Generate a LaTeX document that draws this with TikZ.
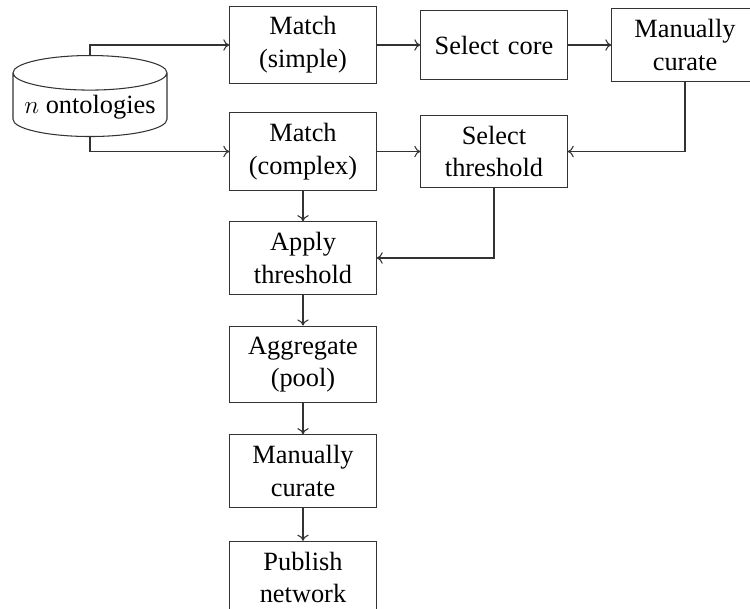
\documentclass[tikz,border=0pt]{standalone}
\usepackage{fontspec}
\setmainfont{Liberation Serif}
\usepackage{tikz}
\usetikzlibrary{positioning}
\usetikzlibrary{shapes.geometric}
\usetikzlibrary{arrows.meta}
\tikzset{
    txt/.style = {align=center, font=\fontsize{15}{18.6}\selectfont},
    box/.style = {txt, rectangle, draw=black!80, text width=2.50cm, minimum width=2.92cm, minimum height=1.38cm, inner sep=6pt, semithick},
    store/.style = {txt, cylinder, shape border rotate=90, draw=black!80, aspect=0.25, minimum width=3.08cm, minimum height=1.62cm, inner sep=2pt, semithick},
    link/.style = {-{To[length=3.5pt,width=6.5pt]}, draw=black!80, semithick}
}

\begin{document}
\begin{tikzpicture}
            [on grid, node distance=2.13cm and 3.82cm]

            \useasboundingbox (0,0) rectangle (15,-12.18);

            \node [store] (onto) at (1.80,-2.15) {$n$ ontologies};

            \node [box] (msimple) at (6.06,-0.90) {Match\\(simple)};
            \node [box, right=of msimple] (score) {Select core};
            \node [box, right=of score] (curate1) {Manually\\curate};

            \node [box, below=of msimple] (mcomplex) {Match\\(complex)};
            \node [box, right=of mcomplex] (sthresh) {Select\\threshold};

            \node [box, below=of mcomplex] (athresh) {Apply\\threshold};
            \node [box, below=of athresh] (aggr) {Aggregate\\(pool)};
            \node [box, below=of aggr] (curate2) {Manually\\curate};
            \node [box, below=of curate2] (publish) {Publish\\network};

            \draw [link] (onto.north) |- (msimple.west);
            \draw [link] (onto.south) |- (mcomplex.west);
            \draw [link] (msimple) -- (score);
            \draw [link] (score) -- (curate1);
            \draw [link] (curate1.south) |- (sthresh.east);
            \draw [link] (mcomplex) -- (sthresh);
            \draw [link] (mcomplex) -- (athresh);
            \draw [link] (sthresh.south) |- (athresh.east);
            \draw [link] (athresh) -- (aggr);
            \draw [link] (aggr) -- (curate2);
            \draw [link] (curate2) -- (publish);
        \end{tikzpicture}
\end{document}
